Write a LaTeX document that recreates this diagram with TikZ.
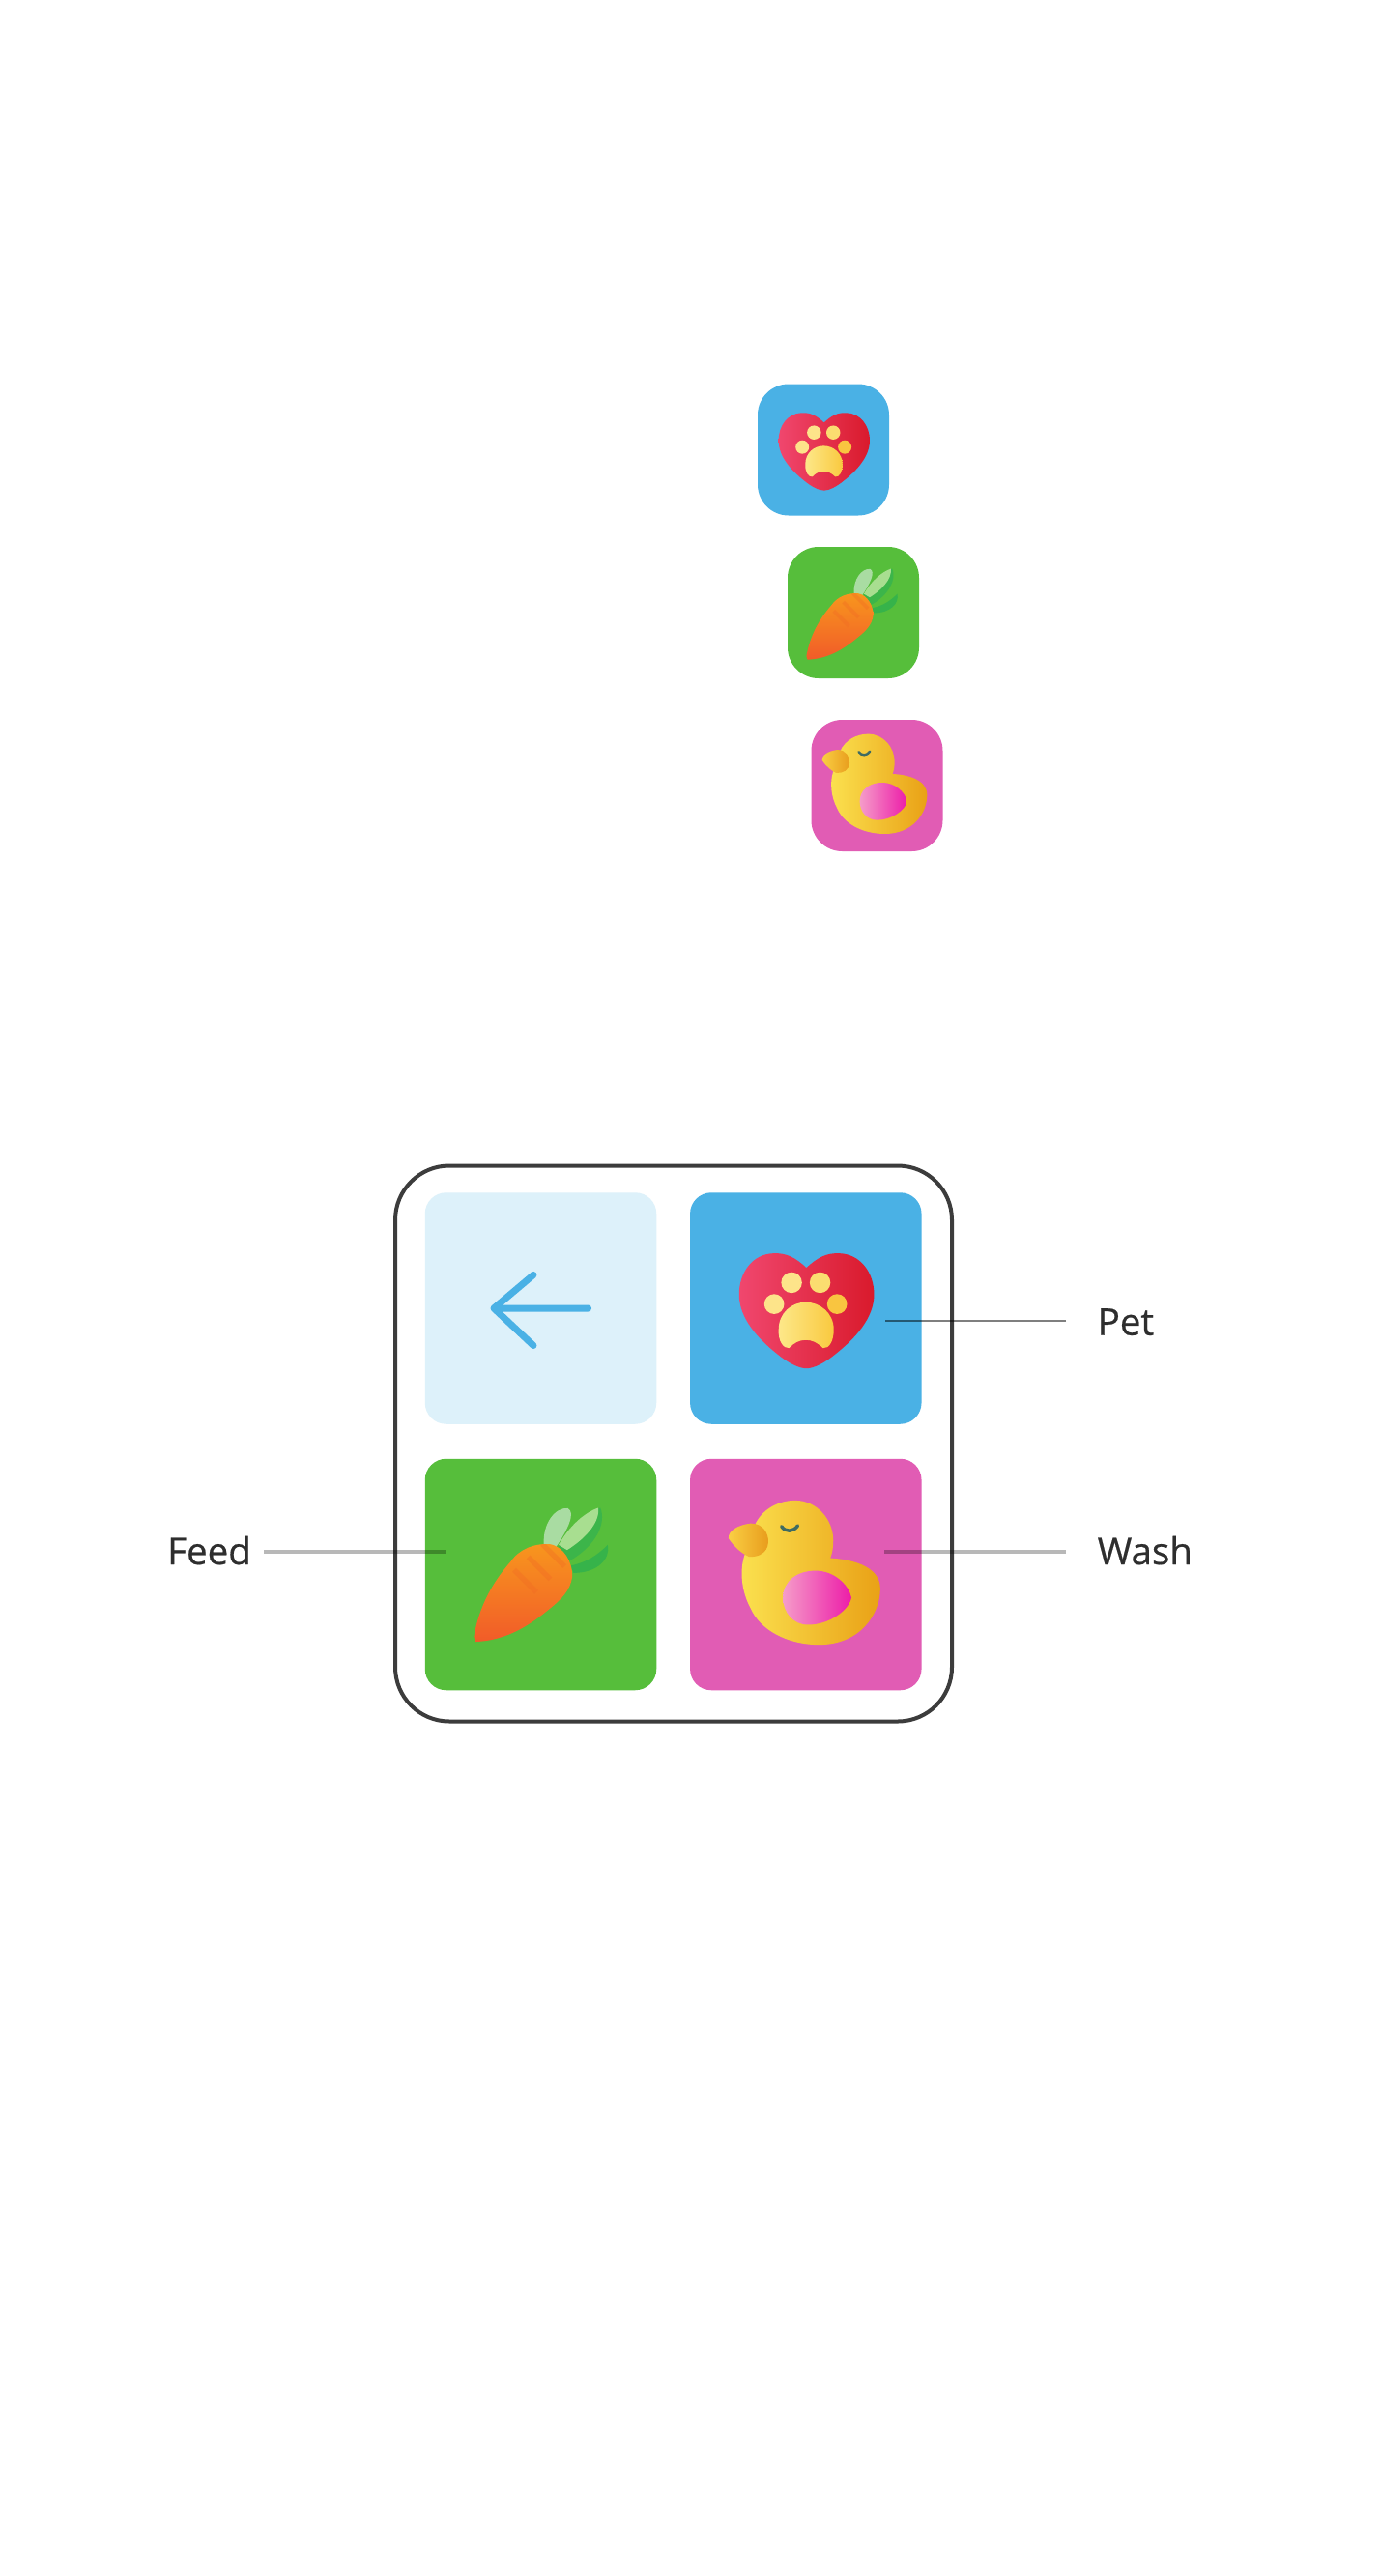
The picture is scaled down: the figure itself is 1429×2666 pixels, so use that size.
\documentclass[tikz,border=0pt]{standalone}
\usepackage{fontspec}
\newfontfamily\labelfont[FakeBold=0.5]{Open Sans}
\definecolor{cblue}{HTML}{4AB1E5}
\definecolor{cgreen}{HTML}{56BE3B}
\definecolor{cpink}{HTML}{E15CB4}
\definecolor{clight}{HTML}{DDF1FA}
\definecolor{cframe}{HTML}{3C3C3C}
\definecolor{ctext}{HTML}{2E2E2E}
\newcommand{\hexcol}[1]{\definecolor{#1}{HTML}{#1}}
\hexcol{F0476E}\hexcol{EC2A48}\hexcol{D91A2C}\hexcol{FDE48A}\hexcol{FBDD70}\hexcol{F9C540}
\hexcol{FDE88A}\hexcol{F9C93F}\hexcol{A9DCA2}\hexcol{3CB54A}\hexcol{A8DE90}\hexcol{36B34A}
\hexcol{F8981D}\hexcol{F15A29}\hexcol{F16A24}\hexcol{FBE14F}\hexcol{F9CE3C}\hexcol{E9A116}
\hexcol{FAD045}\hexcol{E89C1C}\hexcol{F59CC9}\hexcol{EC1CA8}\hexcol{3F6B62}
\tikzset{
  frame box/.style={draw=cframe,line width=4pt,fill=white,rounded corners=56pt,minimum width=576pt,minimum height=575pt,inner sep=0pt},
  big tile/.style={rounded corners=22pt,minimum size=239.5pt,inner sep=0pt},
  small tile/.style={rounded corners=32pt,minimum size=136pt,inner sep=0pt},
  label text/.style={anchor=base west,inner sep=0pt,font=\labelfont\fontsize{38.5pt}{40pt}\selectfont,text=ctext},
  leader thick/.style={draw=black,opacity=.28,line width=3.8pt},
  leader thin/.style={draw=black,opacity=.5,line width=2.2pt},
}
\newcommand{\iconheart}[3]{%
\begin{scope}[shift={(#1,#2)},scale=#3,shift={(-1135.5,-408.5)}]
  \shade[left color=F0476E,middle color=EC2A48,right color=D91A2C]
    (1135,293) .. controls (1105,265) and (1080,252) .. (1045,254)
    .. controls (990,256) and (953,305) .. (953,365)
    .. controls (953,430) and (1005,485) .. (1055,525)
    .. controls (1085,550) and (1115,565) .. (1135,565)
    .. controls (1155,565) and (1185,550) .. (1215,525)
    .. controls (1265,485) and (1318,430) .. (1318,365)
    .. controls (1318,305) and (1280,256) .. (1225,254)
    .. controls (1190,252) and (1165,265) .. (1135,293) -- cycle;
  \fill[FDE48A] (1095,333) circle[radius=28];
  \fill[FBDD70] (1172,333) circle[radius=28];
  \fill[FDE48A] (1048,391) circle[radius=27];
  \fill[F9C540] (1218,391) circle[radius=27];
  \shade[left color=FDE88A,right color=F9C93F]
    (1060,460) .. controls (1060,415) and (1095,386) .. (1133,386)
    .. controls (1172,386) and (1209,415) .. (1209,460)
    .. controls (1209,490) and (1197,512) .. (1180,510)
    .. controls (1165,495) and (1150,488) .. (1133,488)
    .. controls (1115,488) and (1100,497) .. (1088,510)
    .. controls (1073,512) and (1058,490) .. (1060,460) -- cycle;
\end{scope}}
\newcommand{\iconcarrot}[3]{%
\begin{scope}[shift={(#1,#2)},scale=#3,shift={(-419,-1122)}]
  \fill[A9DCA2] (425,1040) .. controls (422,985) and (455,940) .. (490,943)
    .. controls (512,955) and (490,1000) .. (458,1048) -- cycle;
  \fill[3CB54A] (465,1048) .. controls (490,1000) and (540,950) .. (578,942)
    .. controls (595,985) and (565,1045) .. (495,1085) -- cycle;
  \fill[A8DE90] (465,1042) .. controls (495,990) and (535,955) .. (572,942)
    .. controls (578,985) and (530,1030) .. (488,1056) -- cycle;
  \fill[36B34A] (498,1098) .. controls (540,1090) and (570,1070) .. (598,1042)
    .. controls (606,1080) and (570,1118) .. (505,1118) -- cycle;
  \begin{scope}
    \path[clip] (236,1290) .. controls (250,1210) and (285,1145) .. (335,1088)
      .. controls (360,1052) and (400,1038) .. (440,1040)
      .. controls (480,1046) and (503,1090) .. (502,1128)
      .. controls (497,1165) and (472,1190) .. (442,1214)
      .. controls (392,1255) and (330,1300) .. (240,1304) -- cycle;
    \shade[top color=F8981D,bottom color=F15A29] (220,1030) rectangle (510,1310);
    \foreach \t in {0,1,2,3}
      \draw[F16A24,opacity=.35,line width={#3*14pt}]
        (345+\t*38,1110-\t*35) -- (405+\t*38,1170-\t*35);
  \end{scope}
\end{scope}}
\newcommand{\iconduck}[3]{%
\begin{scope}[shift={(#1,#2)},scale=#3,shift={(-1130,-1117)}]
  \shade[left color=FBE14F,middle color=F9CE3C,right color=E9A116]
    (995,990) .. controls (1015,945) and (1060,922) .. (1105,922)
    .. controls (1165,922) and (1208,975) .. (1208,1030)
    .. controls (1208,1050) and (1205,1065) .. (1200,1078)
    .. controls (1245,1080) and (1335,1095) .. (1335,1160)
    .. controls (1335,1230) and (1280,1312) .. (1170,1312)
    .. controls (1080,1312) and (1010,1270) .. (985,1215)
    .. controls (958,1165) and (955,1110) .. (968,1070)
    .. controls (980,1050) and (985,1020) .. (995,990) -- cycle;
  \shade[left color=FAD045,right color=E89C1C]
    (925,1025) .. controls (922,1005) and (950,988) .. (985,984)
    .. controls (1018,984) and (1034,1012) .. (1032,1036)
    .. controls (1030,1064) and (1005,1076) .. (980,1074)
    .. controls (962,1066) and (942,1050) .. (925,1025) -- cycle;
  \shade[left color=F59CC9,right color=EC1CA8]
    (1072,1185) .. controls (1072,1140) and (1110,1112) .. (1160,1112)
    .. controls (1210,1112) and (1250,1150) .. (1257,1185)
    .. controls (1250,1220) and (1195,1258) .. (1140,1258)
    .. controls (1100,1258) and (1072,1225) .. (1072,1185) -- cycle;
  \draw[3F6B62,line width={#3*9pt},line cap=round]
    (1068,992) .. controls (1078,1008) and (1100,1008) .. (1112,990);
\end{scope}}
\begin{document}
\begin{tikzpicture}[x=1pt,y=-1pt]
  \fill[white] (0,0) rectangle (1429,2666);
  \useasboundingbox (0,0) rectangle (1429,2666);
  % small icons
  \node[small tile,fill=cblue]  (smallpet)  at (852,465.5) {};
  \node[small tile,fill=cgreen] (smallfeed) at (883,634) {};
  \node[small tile,fill=cpink]  (smallwash) at (907.5,813) {};
  \iconheart{852.8}{467.2}{.2584}
  \iconcarrot{882}{635.4}{.26}
  \iconduck{905}{811.3}{.265}
  % panel
  \node[frame box] (panel) at (697,1494) {};
  \node[big tile,fill=clight] (back) at (559.5,1354) {};
  \node[big tile,fill=cblue]  (pet)  at (833.8,1354) {};
  \node[big tile,fill=cgreen] (feed) at (559.5,1629.5) {};
  \node[big tile,fill=cpink]  (wash) at (833.8,1629.5) {};
  \draw[cblue,line width=7pt,line cap=round,line join=round]
    (608.6,1354) -- (511,1354) (552,1319.4) -- (511,1354) -- (552,1392.5);
  \iconheart{834.6}{1356.3}{.3827}
  \iconcarrot{560.4}{1629.4}{.3827}
  \iconduck{832.4}{1627.5}{.3827}
  % labels
  \node[label text] (lblfeed) at (173,1619) {Feed};
  \node[label text] (lblpet)  at (1135.5,1381.7) {Pet};
  \node[label text] (lblwash) at (1135.5,1619) {Wash};
  \coordinate (feedin) at (461.7,1605.7);
  \coordinate (petin)  at (916,1367.3);
  \coordinate (washin) at (915,1605.7);
  \draw[leader thick,shorten <=13pt] (lblfeed.east |- feedin) -- (feedin);
  \draw[leader thin,shorten <=32.5pt]  (lblpet.west |- petin) -- (petin);
  \draw[leader thick,shorten <=32.5pt] (lblwash.west |- washin) -- (washin);
\end{tikzpicture}
\end{document}
